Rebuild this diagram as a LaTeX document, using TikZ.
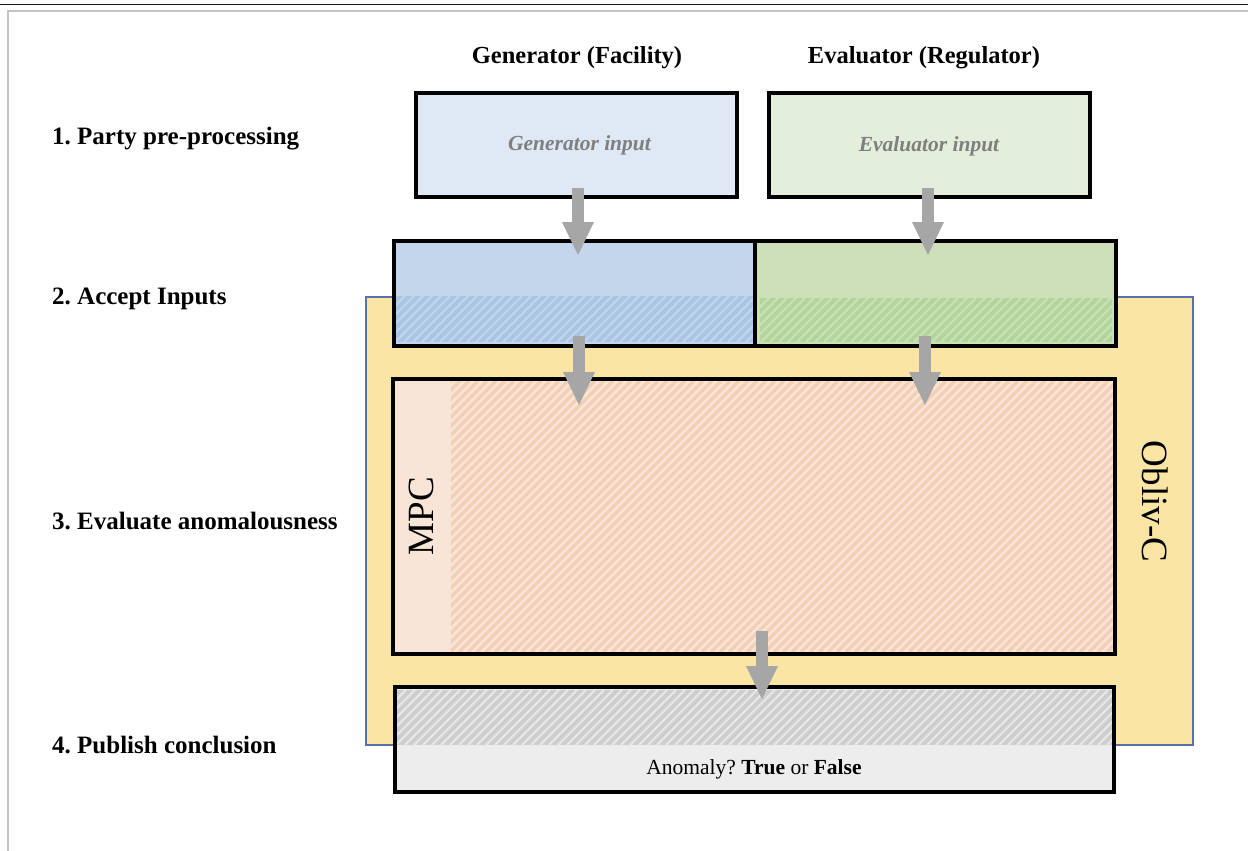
\documentclass[tikz,border=0pt]{standalone}
\usepackage{fontspec}
\setmainfont{Liberation Serif}
\usetikzlibrary{arrows.meta}
\frenchspacing

\definecolor{genfill}{HTML}{DEE9F5}
\definecolor{evalfill}{HTML}{E3EFDA}
\definecolor{accblue}{HTML}{C3D6EB}
\definecolor{accgreen}{HTML}{CDE0B9}
\definecolor{bandblue}{HTML}{A8C5E5}
\definecolor{stripeblue}{HTML}{C0D5EC}
\definecolor{bandgreen}{HTML}{B3D59C}
\definecolor{stripegreen}{HTML}{C8E0B5}
\definecolor{olivfill}{HTML}{FAE5A4}
\definecolor{olivline}{HTML}{5872A8}
\definecolor{mpcfill}{HTML}{F8E5D8}
\definecolor{mpcstripe}{HTML}{F3D0B4}
\definecolor{outfill}{HTML}{EDEDED}
\definecolor{bandgray}{HTML}{CDCDCD}
\definecolor{stripegray}{HTML}{E6E6E6}
\definecolor{flowgray}{HTML}{A6A6A6}
\definecolor{inputtext}{HTML}{7F7F7F}
\definecolor{frameline}{HTML}{C4C4C4}

% diagonal stripes clipped to a rectangle: x1 y1 x2 y2 colour width
\newcommand\stripes[6]{%
  \begin{scope}
    \clip (#1,#2) rectangle (#3,#4);
    \pgfmathsetmacro\stripeH{#4-#2}
    \pgfmathtruncatemacro\stripeN{(#3-#1+\stripeH)/9+1}
    \foreach \k in {0,...,\stripeN}
      \draw[draw=#5, line width=#6] ({#1-\stripeH+9*\k},#4) -- ({#1+9*\k},#2);
  \end{scope}}

\begin{document}
\begin{tikzpicture}[x=1pt,y=-1pt,
  box/.style={draw=black, line width=3.2pt, inner sep=0pt, outer sep=0pt},
  plain/.style={inner sep=0pt, outer sep=0pt},
  border/.style={draw=black, line width=3.2pt},
  flow/.style={draw=flowgray, line width=12pt,
    -{Triangle[width=32pt,length=33pt,line width=0pt]}},
  hdr/.style={font=\fontsize{24.5}{28}\selectfont\bfseries, inner sep=0pt, anchor=base},
  stage/.style={font=\fontsize{25}{28}\selectfont\bfseries, inner sep=0pt, anchor=base west},
  intext/.style={font=\fontsize{21.5}{25}\selectfont\bfseries\itshape, text=inputtext, inner sep=0pt, anchor=base},
  big/.style={font=\fontsize{37}{40}\selectfont, inner sep=0pt, anchor=base}]

\useasboundingbox (0,0) rectangle (1248,851);
\fill[white] (0,0) rectangle (1248,851);

% page frame
\draw[line width=1.8pt, draw=black!90] (0,4.5) -- (1248,4.5);
\draw[line width=1.3pt, draw=frameline] (1248,11) -- (8,11) -- (8,851);

% column headers and stage labels
\node[hdr] (hgen) at (577,64) {Generator (Facility)};
\node[hdr] (heval) at (924,64) {Evaluator (Regulator)};
\node[stage] (s1) at (52,144) {1. Party pre-processing};
\node[stage] (s2) at (52,304) {2. Accept Inputs};
\node[stage] (s3) at (52,529) {3. Evaluate anomalousness};
\node[stage] (s4) at (52,753) {4. Publish conclusion};

% party inputs
\node[box, fill=genfill, minimum width=321pt, minimum height=104pt] (genin) at (576.5,145) {};
\node[box, fill=evalfill, minimum width=321pt, minimum height=104pt] (evalin) at (929.5,145) {};
\node[intext] (gentxt) at (579.5,150) {Generator input};
\node[intext] (evaltxt) at (929,151) {Evaluator input};

% Obliv-C runtime
\node[plain, fill=olivfill, draw=olivline, line width=1.2pt,
      minimum width=827pt, minimum height=448pt] (oliv) at (779.5,521) {};
\node[big, rotate=-90] (olivtxt) at (1142,501.5) {Obliv-C};

% accepted inputs
\node[plain, fill=accblue, minimum width=361pt, minimum height=105pt] (accgen) at (574.5,293.5) {};
\node[plain, fill=accgreen, minimum width=361pt, minimum height=105pt] (acceval) at (935.5,293.5) {};
\fill[bandblue] (396,296) rectangle (754,342);
\stripes{396}{296}{754}{342}{stripeblue}{2.4pt}
\fill[bandgreen] (760,298) rectangle (1112,342);
\stripes{760}{298}{1112}{342}{stripegreen}{2.4pt}
\draw[border] (accgen.north west) rectangle (acceval.south east);
\draw[border] (accgen.north east) -- (accgen.south east);

% MPC evaluation
\node[plain, fill=mpcfill, minimum width=722pt, minimum height=275pt] (mpc) at (754,516.5) {};
\stripes{451}{381}{1113}{652}{mpcstripe}{3.4pt}
\draw[border] (mpc.north west) rectangle (mpc.south east);
\node[big, rotate=90] (mpctxt) at (433,516) {MPC};

% published result
\node[plain, fill=outfill, minimum width=719pt, minimum height=105pt] (out) at (754.5,739.5) {};
\fill[bandgray] (397,690) rectangle (1112,745);
\stripes{397}{690}{1112}{745}{stripegray}{2.4pt}
\draw[border] (out.north west) rectangle (out.south east);
\node[font=\fontsize{21.5}{25}\selectfont, inner sep=0pt, anchor=base] (outtxt) at (754,774)
  {Anomaly? \textbf{True} or \textbf{False}};

% data flow
\coordinate (f1a) at (578,188);  \coordinate (f1b) at (578,255);
\coordinate (f2a) at (928,188);  \coordinate (f2b) at (928,255);
\coordinate (f3a) at (579,336);  \coordinate (f3b) at (579,405);
\coordinate (f4a) at (925,336);  \coordinate (f4b) at (925,405);
\coordinate (f5a) at (762,631);  \coordinate (f5b) at (762,699);
\draw[flow] (f1a) -- (f1b);
\draw[flow] (f2a) -- (f2b);
\draw[flow] (f3a) -- (f3b);
\draw[flow] (f4a) -- (f4b);
\draw[flow] (f5a) -- (f5b);
\end{tikzpicture}
\end{document}
